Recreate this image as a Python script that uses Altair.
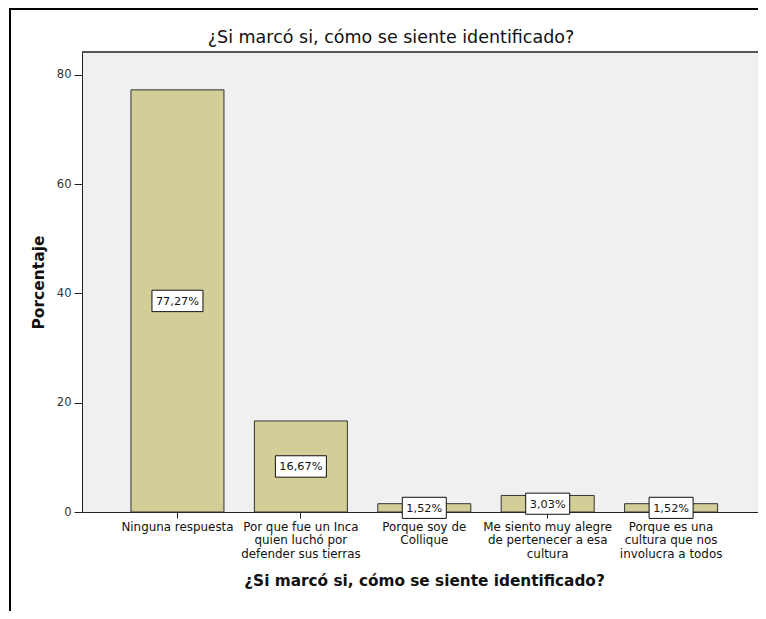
import altair as alt
import pandas as pd

categories = [
    "Ninguna respuesta",
    "Por que fue un Inca\nquien luchó por\ndefender sus tierras",
    "Porque soy de\nCollique",
    "Me siento muy alegre\nde pertenecer a esa\ncultura",
    "Porque es una\ncultura que nos\ninvolucra a todos",
]
percentages = [77.27, 16.67, 1.52, 3.03, 1.52]
y_ticks = [0, 20, 40, 60, 80]

title_text = "¿Si marcó si, cómo se siente identificado?"
x_title = "¿Si marcó si, cómo se siente identificado?"
y_title = "Porcentaje"

df = pd.DataFrame({"cat": categories, "pct": percentages})

W, H = 676, 460
FONT = "DejaVu Sans"

x_enc = alt.X(
    "cat:N",
    sort=categories,
    scale=alt.Scale(paddingInner=0.2464, paddingOuter=0.362, align=0.548),
    axis=alt.Axis(
        title=x_title,
        labelAngle=0,
        labelExpr="split(datum.label, '\\n')",
        labelFont=FONT,
        labelFontSize=11.9,
        labelColor="#111",
        labelLineHeight=13.5,
        labelPadding=3,
        labelLimit=300,
        tickSize=6,
        tickColor="#222",
        domainColor="#222",
        titleFont=FONT,
        titleFontSize=15.3,
        titleFontWeight="bold",
        titleColor="#111",
        titleY=68,
        titleX=342,
        titleBaseline="middle",
        titleAlign="center",
    ),
)

y_scale = alt.Scale(domain=[0, 84.2], nice=False)

bars = alt.Chart(df).mark_bar(
    fill="#D3CE97", stroke="#333333", strokeWidth=1
).encode(
    x=x_enc,
    y=alt.Y(
        "pct:Q",
        scale=y_scale,
        axis=alt.Axis(
            title=y_title,
            values=y_ticks,
            grid=False,
            labelFont=FONT,
            labelFontSize=11.5,
            labelColor="#333",
            labelPadding=3,
            tickSize=8,
            tickColor="#222",
            domainColor="#222",
            titleFont=FONT,
            titleFontSize=15.5,
            titleFontWeight="bold",
            titleColor="#111",
            titleX=-44,
            titleY=H / 2,
            titleBaseline="middle",
            titleAlign="center",
        ),
    ),
)

base_lbl = alt.Chart(df).transform_calculate(
    mid="datum.pct / 2",
    txt="replace(format(datum.pct, '.2f'), '.', ',') + '%'",
)

box_wide = base_lbl.transform_filter("datum.pct >= 10").mark_point(
    shape="M-1,-0.42L1,-0.42L1,0.42L-1,0.42Z",
    size=2601,
    filled=True,
    fill="white",
    stroke="#111",
    strokeWidth=1,
    opacity=1,
).encode(
    x=alt.X("cat:N", sort=categories),
    y=alt.Y("mid:Q", scale=y_scale),
)

box_narrow = base_lbl.transform_filter("datum.pct < 10").mark_point(
    shape="M-1,-0.48L1,-0.48L1,0.48L-1,0.48Z",
    size=1936,
    filled=True,
    fill="white",
    stroke="#111",
    strokeWidth=1,
    opacity=1,
).encode(
    x=alt.X("cat:N", sort=categories),
    y=alt.Y("mid:Q", scale=y_scale),
)

texts = base_lbl.mark_text(
    font=FONT, fontSize=11.3, color="#111", align="center", baseline="middle", dy=1
).encode(
    x=alt.X("cat:N", sort=categories),
    y=alt.Y("mid:Q", scale=y_scale),
    text="txt:N",
)

title_df = pd.DataFrame({"t": [title_text]})
title_mark = alt.Chart(title_df).mark_text(
    font=FONT, fontSize=17.5, color="#111", align="center", baseline="middle"
).encode(
    x=alt.value(309), y=alt.value(-14), text="t:N"
)

plot_top = alt.Chart(df).mark_rule(color="#555555", strokeWidth=1.5).encode(
    x=alt.value(0), x2=alt.value(W), y=alt.value(0)
)
border_left = alt.Chart(df).mark_rule(color="black", strokeWidth=2).encode(
    x=alt.value(-72), y=alt.value(-43), y2=alt.value(H + 110)
)
border_top = alt.Chart(df).mark_rule(color="black", strokeWidth=2).encode(
    x=alt.value(-73), x2=alt.value(W + 10), y=alt.value(-43)
)

chart = alt.layer(
    bars, box_wide, box_narrow, texts, plot_top, title_mark, border_left, border_top
).properties(
    width=W,
    height=H,
    autosize=alt.AutoSizeParams(type="none"),
    padding={"left": 74, "top": 44, "right": 0, "bottom": 99},
    background="white",
).configure_view(
    fill="#F0F0F0", stroke=None
)

chart.save("out.html", embed_options={"renderer": "svg", "actions": False})
